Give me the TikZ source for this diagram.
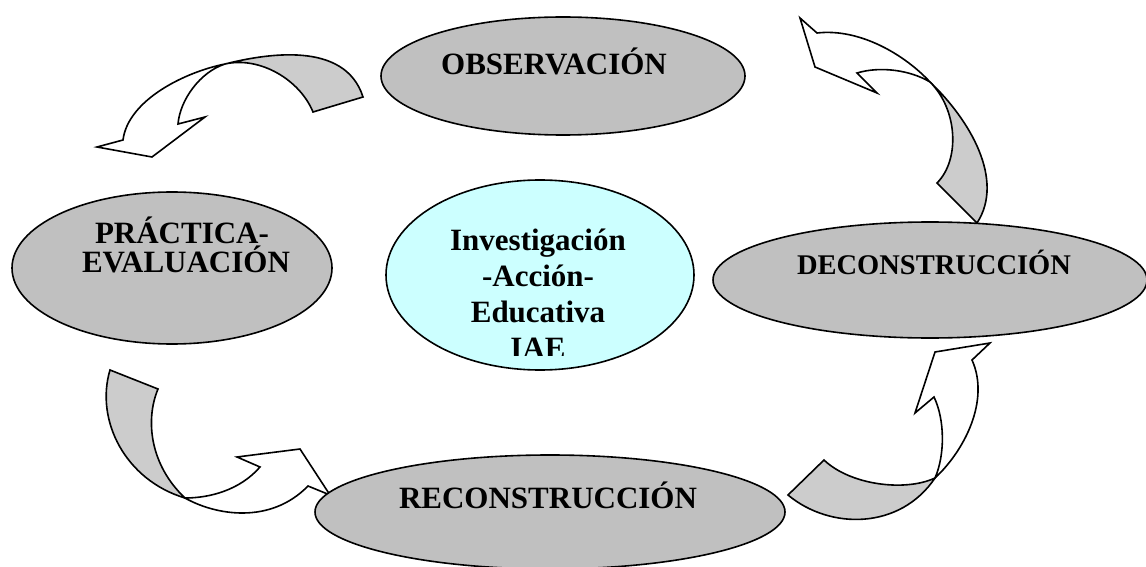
\documentclass[tikz,border=0pt]{standalone}
\usepackage{fontspec}
\setmainfont{Liberation Serif}
\usetikzlibrary{shapes.geometric}
\definecolor{stagegray}{HTML}{C0C0C0}
\definecolor{ribbongray}{HTML}{CCCCCC}
\definecolor{corecyan}{HTML}{CCFFFF}
\tikzset{
  stage/.style={ellipse, draw=black, line width=1.6pt, fill=stagegray, inner sep=0pt},
  core/.style={ellipse, draw=black, line width=1.6pt, fill=corecyan, inner sep=0pt},
  ribbonback/.style={draw=black, line width=1.6pt, fill=ribbongray, line join=miter},
  ribbonfront/.style={draw=black, line width=1.6pt, fill=white, line join=miter},
  word/.style={anchor=base, inner sep=0pt, font=\bfseries\fontsize{31}{36}\selectfont},
  smallword/.style={anchor=base, inner sep=0pt, font=\bfseries\fontsize{28.5}{34}\selectfont}
}
\begin{document}
\begin{tikzpicture}[x=1pt,y=-1pt]
\useasboundingbox (0,0) rectangle (1146,567);

% ---- curved ribbon arrows (twisted, grey back face and white front face) ----
% observation -> practice
\coordinate (ja) at (225,64);
\draw[ribbonback] (ja) .. controls (265,54) and (345,40) .. (363,97) -- (313,112)
  .. controls (300,80) and (260,56) .. (ja) -- cycle;
\draw[ribbonfront] (ja) .. controls (185,72) and (128,100) .. (123,140) -- (97,147)
  -- (152,157) -- (205,117) -- (178,124) .. controls (180,100) and (200,72) .. (ja) -- cycle;

% deconstruction -> observation
\coordinate (jb) at (930,82);
\draw[ribbonback] (jb) .. controls (970,120) and (1005,180) .. (977,223) -- (937,183)
  .. controls (960,160) and (958,110) .. (jb) -- cycle;
\draw[ribbonfront] (jb) .. controls (905,55) and (860,28) .. (817,33) -- (800,18)
  -- (815,67) -- (877,93) -- (857,73) .. controls (880,66) and (910,70) .. (jb) -- cycle;

% practice -> reconstruction
\coordinate (jc) at (185,498);
\draw[ribbonback] (110,370) -- (158,389) .. controls (145,420) and (150,465) .. (jc)
  .. controls (125,480) and (95,420) .. (110,370) -- cycle;
\draw[ribbonfront] (jc) .. controls (215,515) and (270,525) .. (308,486) -- (330,495)
  -- (300,449) -- (237,457) -- (260,467) .. controls (240,490) and (210,498) .. (jc) -- cycle;

% reconstruction -> deconstruction
\coordinate (jd) at (935,478);
\draw[ribbonback] (788,495) -- (824,460) .. controls (850,485) and (905,492) .. (jd)
  .. controls (900,530) and (830,530) .. (788,495) -- cycle;
\draw[ribbonfront] (jd) .. controls (965,450) and (990,400) .. (972,360) -- (990,343)
  -- (935,352) -- (915,413) -- (934,397) .. controls (945,420) and (945,455) .. (jd) -- cycle;

% ---- stages ----
\node[stage, minimum width=364pt, minimum height=118pt] (obs) at (563,76) {};
\node[stage, minimum width=320pt, minimum height=152pt] (prac) at (172,268) {};
\node[stage, minimum width=434pt, minimum height=116pt] (deco) at (930,280) {};
\node[stage, minimum width=470pt, minimum height=114pt] (reco) at (550,512) {};
\node[core, minimum width=308pt, minimum height=190pt] (iae) at (540,275) {};

% ---- labels ----
\node[word] (tobs) at (554,75) {OBSERVACIÓN};
\node[word] (tprac1) at (182,243) {PRÁCTICA-};
\node[word] (tprac2) at (186,272) {EVALUACIÓN};
\node[smallword] (tdeco) at (934,274) {DECONSTRUCCIÓN};
\node[word] (treco) at (548,508) {RECONSTRUCCIÓN};
\begin{scope}
  \clip (380,180) rectangle (700,355);
  \node[word] (tiae1) at (538,250) {Investigación};
  \node[word] (tiae2) at (538,286) {-Acción-};
  \node[word] (tiae3) at (538,322) {Educativa};
  \node[word] (tiae4) at (538,358) {IAE};
\end{scope}
\end{tikzpicture}
\end{document}
